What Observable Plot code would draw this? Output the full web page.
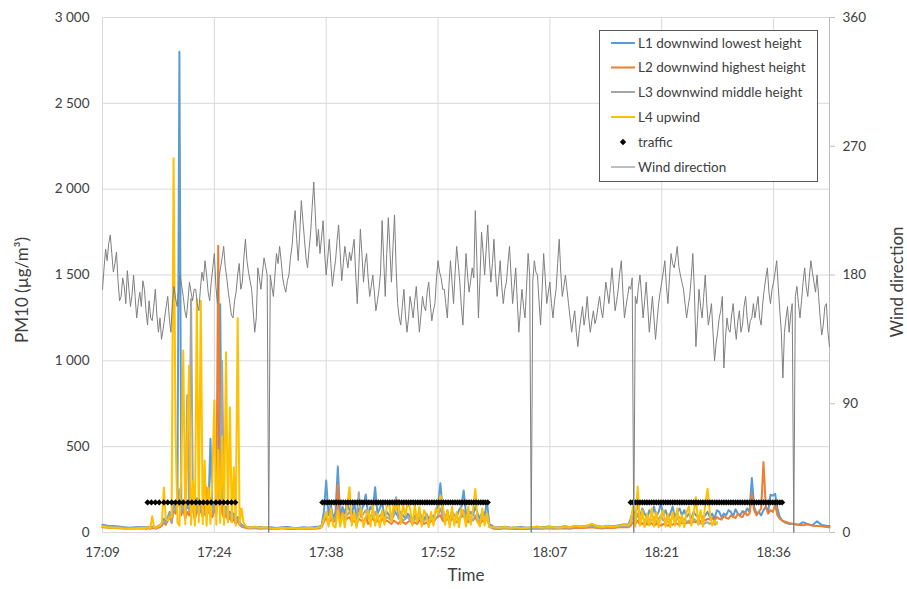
<!DOCTYPE html>
<html><head><meta charset="utf-8">
<script src="https://cdn.jsdelivr.net/npm/d3@7"></script>
<script src="https://cdn.jsdelivr.net/npm/@observablehq/plot@0.6"></script>
<style>
body{margin:0;background:#fff;}
#chart{position:relative;width:907px;height:589px;}
#warn{color:red;font:12px sans-serif;position:absolute;left:300px;top:5px;}
</style></head><body><div id="chart"></div><div id="warn"></div>
<script>
// ---- labels ----
const seriesNames = ["L1 downwind lowest height","L2 downwind highest height","L3 downwind middle height","L4 upwind","traffic","Wind direction"];
const xTickTimes = [1029.6, 1044, 1058.4, 1072.8, 1087.2, 1101.6, 1116]; // minutes after midnight
const xTickLabels = ["17:09","17:24","17:38","17:52","18:07","18:21","18:36"];
const pmTicks = [0, 500, 1000, 1500, 2000, 2500, 3000];
const windTicks = [0, 90, 180, 270, 360];

// ---- PM10 series (shared sample times, minutes after midnight) ----
const pmTimes = [
 1029.6,1030.3,1031.0,1031.7,1032.4,1033.1,1033.8,1034.5,
 1034.75,1035,1035.25,1035.5,1035.75,1036,1036.25,1036.5,1036.75,1037,
 1037.25,1037.5,1037.75,1038,1038.25,1038.5,1038.75,1039,1039.25,1039.5,
 1039.75,1040,1040.25,1040.5,1040.75,1041,1041.25,1041.5,1041.75,1042,
 1042.25,1042.5,1042.75,1043,1043.25,1043.5,1043.75,1044,1044.25,1044.5,
 1044.75,1045,1045.25,1045.5,1045.75,1046,1046.25,1046.5,1046.75,1047,
 1047.25,1047.5,1047.75,1048,1048.25,1048.5,
 1049.2,1049.9,1050.6,1051.3,1052.0,1052.7,1053.4,1054.1,1054.8,1055.5,1056.2,1056.9,1057.5,
 1057.8,1058.1,1058.4,1058.7,1059.0,1059.3,1059.6,1059.9,1060.2,1060.5,
 1060.8,1061.1,1061.4,1061.7,1062.0,1062.3,1062.6,1062.9,1063.2,1063.5,
 1063.8,1064.1,1064.4,1064.7,1065.0,1065.3,1065.6,1065.9,1066.2,1066.5,
 1066.8,1067.1,1067.4,1067.7,1068.0,1068.3,1068.6,1068.9,1069.2,1069.5,
 1069.8,1070.1,1070.4,1070.7,1071.0,1071.3,1071.6,1071.9,1072.2,1072.5,
 1072.8,1073.1,1073.4,1073.7,1074.0,1074.3,1074.6,1074.9,1075.2,1075.5,
 1075.8,1076.1,1076.4,1076.7,1077.0,1077.3,1077.6,1077.9,1078.2,1078.5,
 1078.8,1079.1,1079.4,
 1080.0,1080.7,1081.4,1082.1,1082.8,1083.5,1084.2,1084.9,1085.6,1086.3,
 1087.0,1087.7,1088.4,1089.1,1089.8,1090.5,1091.2,1091.9,1092.6,1093.3,
 1094.0,1094.7,1095.4,1096.1,1096.8,
 1097.3,1097.6,1097.9,1098.2,1098.5,1098.8,1099.1,1099.4,1099.7,1100.0,
 1100.3,1100.6,1100.9,1101.2,1101.5,1101.8,1102.1,1102.4,1102.7,1103.0,
 1103.3,1103.6,1103.9,1104.2,1104.5,1104.8,1105.1,1105.4,1105.7,1106.0,
 1106.3,1106.6,1106.9,1107.2,1107.5,1107.8,1108.1,1108.4,1108.7,1109.0,
 1109.3,1109.6,1109.9,1110.2,1110.5,1110.8,1111.1,1111.4,1111.7,1112.0,
 1112.3,1112.6,1112.9,1113.2,1113.5,1113.8,1114.1,1114.4,1114.7,1115.0,
 1115.3,1115.6,1115.9,1116.2,1116.5,1116.8,1117.1,1117.4,1117.7,1118.0,
 1118.6,1119.2,1119.8,1120.4,1121.0,1121.6,1122.2,1122.8,1123.2
];
const L1 = [
 45,40,38,35,30,28,30,32,
 30,32,28,34,30,35,33,30,38,42, 50,80,60,90,120,70,180,150,200,2800,
 140,180,110,160,130,220,170,90,200,140, 180,120,150,100,160,546,120,180,130,200,
 1330,160,110,150,90,120,80,110,70,90, 60,45,40,35,32,30,
 30,32,28,30,26,30,32,28,26,30,28,32,35,
 40,120,303,100,160,80,120,384,90,150, 110,170,130,100,180,90,140,120,160,221,
 100,150,130,264,110,140,177,90,120,100, 80,130,110,90,120,100,80,110,90,70,
 100,80,120,90,70,110,80,100,90,120, 160,287,130,90,110,80,120,100,90,130,
 150,245,110,90,120,100,150,110,80,120, 100,180,50,
 32,30,34,28,30,32,28,30,34,30,35,32,30,36,32,38,36,40,45,38,34,40,36,42,48,
 45,80,130,100,170,90,140,110,80,130, 100,150,90,120,167,100,130,80,110,150,
 90,120,140,100,130,90,110,80,120,100, 90,110,80,100,120,90,110,80,130,120,
 90,110,100,130,120,95,135,110,100,125, 110,140,120,318,150,110,120,100,130,150,
 120,220,215,225,140,90,70,60,55,50,
 50,45,60,48,42,65,44,40,38
];
const L2 = [
 30,28,26,25,24,22,24,25,
 22,24,20,25,22,26,24,22,28,30, 40,60,45,70,90,55,130,110,150,200,
 100,140,80,120,100,160,130,70,150,100, 140,90,110,262,120,100,90,140,100,1670,
 200,120,80,110,70,90,60,80,50,70, 45,35,30,28,25,24,
 25,22,24,20,22,24,20,22,20,22,24,22,25,
 30,60,90,50,80,60,70,276,60,120, 70,80,90,60,70,50,80,70,60,90,
 50,70,80,60,70,50,80,60,70,60, 50,70,60,50,70,60,50,60,70,50,
 60,50,70,60,50,60,50,70,60,80, 90,100,70,60,128,60,80,70,60,80,
 90,100,70,60,80,70,90,60,50,70, 60,90,35,
 22,20,24,22,20,22,20,22,24,22,25,22,24,25,22,28,26,28,30,26,24,28,26,30,32,
 30,40,60,50,70,45,55,40,50,45, 55,40,50,45,40,50,45,40,50,45,
 55,50,45,60,50,55,60,50,65,60, 70,65,75,70,80,75,85,70,90,80,
 75,95,85,80,100,90,85,110,95,90, 120,100,110,225,130,100,120,140,410,150,
 110,130,120,160,100,80,70,65,60,55,
 50,45,42,48,40,38,36,32,30
];
const L3 = [
 40,35,32,30,28,26,28,30,
 28,30,26,32,28,32,30,28,34,38, 45,70,55,80,110,60,160,130,180,250,
 120,160,100,800,120,1360,150,80,180,120, 160,100,130,90,140,200,110,160,120,180,
 260,1000,100,140,80,110,70,100,60,80, 55,40,35,32,30,28,
 28,26,28,24,25,26,28,24,25,26,24,26,30,
 35,70,110,60,100,70,80,150,70,110, 80,100,120,90,110,80,235,90,110,130,
 80,100,90,120,80,100,110,70,90,80, 70,100,206,80,90,70,80,90,70,60,
 80,70,90,60,70,80,60,90,70,80, 100,140,90,70,80,60,90,70,60,80,
 100,130,80,70,90,70,100,80,60,90, 70,120,40,
 26,25,28,24,25,26,24,25,28,25,28,26,25,30,26,32,30,32,38,30,28,32,30,34,38,
 35,50,90,70,110,60,90,70,60,80, 70,90,60,80,100,70,80,60,70,90,
 60,80,90,70,80,60,70,60,80,70, 50,55,45,55,60,50,55,45,60,null,
 null,null,null,null,null,null,null,null,null,null, null,null,null,null,null,null,null,null,null,null,
 null,null,null,null,null,null,null,null,null,null,
 null,null,null,null,null,null,null,null,null
];
const L4 = [
 35,30,28,27,22,20,24,26,
 25,28,24,30,26,95,30,28,35,40, 60,262,80,70,90,90,2180,600,60,40,
 350,1060,50,480,973,45,300,40,1360,60, 1350,50,420,40,260,50,330,770,45,480,
 55,560,45,1050,60,730,60,380,40,1250, 50,140,60,40,32,28,
 35,28,30,25,22,28,24,26,22,25,28,24,30,
 30,80,120,35,140,40,30,130,35,110, 30,150,264,40,120,28,100,140,32,90,
 130,35,160,40,110,30,130,45,150,180, 60,170,130,190,50,160,100,175,140,40,
 160,60,150,35,130,100,30,120,40,140, 110,217,160,45,130,30,150,40,120,30,
 140,110,35,150,45,130,254,60,35,140, 40,110,30,
 30,28,32,26,30,25,28,30,35,28,32,30,28,35,30,40,35,38,52,36,32,38,34,40,45,
 40,60,150,35,268,40,130,30,110,40, 140,35,120,30,100,130,35,110,30,120,
 40,140,35,100,30,120,150,40,110,206, 45,130,35,160,255,110,40,70,50,null,
 null,null,null,null,null,null,null,null,null,null, null,null,null,null,null,null,null,null,null,null,
 null,null,null,null,null,null,null,null,null,null,
 null,null,null,null,null,null,null,null,null
];

// ---- traffic markers ----
const trafficLevel = 175;
const trafficTimes = [
 1035.4,1035.9,1036.4,1036.9,1037.5,1038.0,1038.5,1039.0,1039.5,1040.0,1040.6,1041.1,
 1041.6,1042.1,1042.6,1043.1,1043.6,1044.2,1044.7,1045.2,1045.7,1046.2,1046.7,
 1057.9,1058.2,1058.5,1058.8,1059.1,1059.4,1059.7,1060.0,1060.3,1060.6,1060.9,1061.2,
 1061.5,1061.8,1062.1,1062.4,1062.7,1063.0,1063.3,1063.6,1063.9,1064.2,1064.5,1064.8,
 1065.1,1065.4,1065.7,1066.0,1066.3,1066.6,1066.9,1067.2,1067.5,1067.8,1068.1,1068.4,
 1068.7,1069.0,1069.3,1069.6,1069.9,1070.2,1070.5,1070.8,1071.1,1071.4,1071.7,1072.0,
 1072.3,1072.6,1072.9,1073.2,1073.5,1073.8,1074.1,1074.4,1074.7,1075.0,1075.3,1075.6,
 1075.9,1076.2,1076.5,1076.8,1077.1,1077.4,1077.7,1078.0,1078.3,1078.6,1078.9,1079.2,
 1097.6,1097.9,1098.2,1098.5,1098.8,1099.1,1099.4,1099.7,1100.0,1100.3,1100.6,1100.9,
 1101.2,1101.5,1101.8,1102.1,1102.4,1102.7,1103.0,1103.3,1103.6,1103.9,1104.2,1104.5,
 1104.8,1105.1,1105.4,1105.7,1106.0,1106.3,1106.6,1106.9,1107.2,1107.5,1107.8,1108.1,
 1108.4,1108.7,1109.0,1109.3,1109.6,1109.9,1110.2,1110.5,1110.8,1111.1,1111.4,1111.7,
 1112.0,1112.3,1112.6,1112.9,1113.2,1113.5,1113.8,1114.1,1114.4,1114.7,1115.0,1115.3,
 1115.6,1115.9,1116.2,1116.5,1116.8,1117.1
];

// ---- wind direction (degrees) ----
const windTimes = [
 1029.6,1029.8,1030.0,1030.2,1030.4,1030.6,1030.8,1031.0,1031.2,1031.4,
 1031.6,1031.8,1032.0,1032.2,1032.4,1032.6,1032.8,1033.0,1033.2,1033.4,
 1033.6,1033.8,1034.0,1034.2,1034.4,1034.6,1034.8,1035.0,1035.2,1035.4,
 1035.6,1035.8,1036.0,1036.2,1036.4,1036.6,1036.8,1037.0,1037.2,1037.4,
 1037.6,1037.8,1038.0,1038.2,1038.4,1038.6,1038.8,1039.0,1039.2,1039.4,
 1039.6,1039.8,1040.0,1040.2,1040.4,1040.6,1040.8,1041.0,1041.2,1041.4,
 1041.6,1041.8,1042.0,1042.2,1042.4,1042.6,1042.8,1043.0,1043.2,1043.4,
 1043.6,1043.8,1044.0,1044.2,1044.4,1044.6,1044.8,1045.0,1045.2,1045.4,
 1045.6,1045.8,1046.0,1046.2,1046.4,1046.6,1046.8,1047.0,1047.2,1047.4,
 1047.6,1047.8,1048.0,1048.2,1048.4,1048.6,1048.8,1049.0,1049.2,1049.4,
 1049.6,1049.8,1050.0,1050.2,1050.4,1050.6,1050.8,1051.0,1051.2,1051.4,
 1051.6,1051.8,1052.0,1052.2,1052.4,1052.6,1052.8,1053.0,1053.2,1053.4,
 1053.6,1053.8,1054.0,1054.2,1054.4,1054.6,1054.8,1055.0,1055.2,1055.4,
 1055.6,1055.8,1056.0,1056.2,1056.4,1056.6,1056.8,1057.0,1057.2,1057.4,
 1057.6,1057.8,1058.0,1058.2,1058.4,1058.6,1058.8,1059.0,1059.2,1059.4,
 1059.6,1059.8,1060.0,1060.2,1060.4,1060.6,1060.8,1061.0,1061.2,1061.4,
 1061.6,1061.8,1062.0,1062.2,1062.4,1062.6,1062.8,1063.0,1063.2,1063.4,
 1063.6,1063.8,1064.0,1064.2,1064.4,1064.6,1064.8,1065.0,1065.2,1065.4,
 1065.6,1065.8,1066.0,1066.2,1066.4,1066.6,1066.8,1067.0,1067.2,1067.4,
 1067.6,1067.8,1068.0,1068.2,1068.4,1068.6,1068.8,1069.0,1069.2,1069.4,
 1069.6,1069.8,1070.0,1070.2,1070.4,1070.6,1070.8,1071.0,1071.2,1071.4,
 1071.6,1071.8,1072.0,1072.2,1072.4,1072.6,1072.8,1073.0,1073.2,1073.4,
 1073.6,1073.8,1074.0,1074.2,1074.4,1074.6,1074.8,1075.0,1075.2,1075.4,
 1075.6,1075.8,1076.0,1076.2,1076.4,1076.6,1076.8,1077.0,1077.2,1077.4,
 1077.6,1077.8,1078.0,1078.2,1078.4,1078.6,1078.8,1079.0,1079.2,1079.4,
 1079.6,1079.8,1080.0,1080.2,1080.4,1080.6,1080.8,1081.0,1081.2,1081.4,
 1081.6,1081.8,1082.0,1082.2,1082.4,1082.6,1082.8,1083.0,1083.2,1083.4,
 1083.6,1083.8,1084.0,1084.2,1084.4,1084.6,1084.8,1085.0,1085.2,1085.4,
 1085.6,1085.8,1086.0,1086.2,1086.4,1086.6,1086.8,1087.0,1087.2,1087.4,
 1087.6,1087.8,1088.0,1088.2,1088.4,1088.6,1088.8,1089.0,1089.2,1089.4,
 1089.6,1089.8,1090.0,1090.2,1090.4,1090.6,1090.8,1091.0,1091.2,1091.4,
 1091.6,1091.8,1092.0,1092.2,1092.4,1092.6,1092.8,1093.0,1093.2,1093.4,
 1093.6,1093.8,1094.0,1094.2,1094.4,1094.6,1094.8,1095.0,1095.2,1095.4,
 1095.6,1095.8,1096.0,1096.2,1096.4,1096.6,1096.8,1097.0,1097.2,1097.4,
 1097.6,1097.8,1098.0,1098.2,1098.4,1098.6,1098.8,1099.0,1099.2,1099.4,
 1099.6,1099.8,1100.0,1100.2,1100.4,1100.6,1100.8,1101.0,1101.2,1101.4,
 1101.6,1101.8,1102.0,1102.2,1102.4,1102.6,1102.8,1103.0,1103.2,1103.4,
 1103.6,1103.8,1104.0,1104.2,1104.4,1104.6,1104.8,1105.0,1105.2,1105.4,
 1105.6,1105.8,1106.0,1106.2,1106.4,1106.6,1106.8,1107.0,1107.2,1107.4,
 1107.6,1107.8,1108.0,1108.2,1108.4,1108.6,1108.8,1109.0,1109.2,1109.4,
 1109.6,1109.8,1110.0,1110.2,1110.4,1110.6,1110.8,1111.0,1111.2,1111.4,
 1111.6,1111.8,1112.0,1112.2,1112.4,1112.6,1112.8,1113.0,1113.2,1113.4,
 1113.6,1113.8,1114.0,1114.2,1114.4,1114.6,1114.8,1115.0,1115.2,1115.4,
 1115.6,1115.8,1116.0,1116.2,1116.4,1116.6,1116.8,1117.0,1117.2,1117.4,
 1117.6,1117.8,1118.0,1118.2,1118.4,1118.6,1118.8,1119.0,1119.2,1119.4,
 1119.6,1119.8,1120.0,1120.2,1120.4,1120.6,1120.8,1121.0,1121.2,1121.4,
 1121.6,1121.8,1122.0,1122.2,1122.4,1122.6,1122.8,1123.0,1123.2
];
const windDir = [
 170,185,198,190,202,208,195,182,188,196, 176,162,165,178,172,160,183,170,158,166,
 180,165,150,160,168,158,176,170,155,145, 162,150,148,158,170,152,140,150,135,142,
 150,158,165,150,140,160,172,164,158,170, 180,172,165,155,150,162,175,168,162,170,
 170,160,155,170,182,176,190,180,168,162, 175,185,195,172,160,178,185,192,200,186,
 178,168,160,152,150,162,168,180,188,170, 175,192,205,190,182,176,170,155,140,150,
 185,178,170,182,192,186,180,0,180,172, 165,180,195,188,200,190,178,172,168,176,
 180,192,200,215,225,205,190,210,232,218, 205,192,185,198,210,228,245,222,200,212,
 195,206,218,195,180,192,205,188,172,182, 190,204,215,195,176,188,200,192,185,196,
 190,198,205,180,160,185,212,195,175,188, 195,178,165,172,180,168,155,162,170,182,
 218,192,165,195,220,198,175,200,222,185, 160,150,145,158,170,152,140,150,165,158,
 150,162,172,155,140,152,165,158,155,168, 175,160,148,155,160,178,190,182,178,170,
 170,160,150,172,190,175,160,182,200,188, 175,158,145,170,195,180,168,176,185,178,
 225,190,150,178,210,196,180,198,215,192, 175,188,205,182,165,176,190,172,160,170,
 175,188,200,180,160,172,185,162,140,155, 170,158,150,172,195,180,0,176,190,182,
 180,162,145,170,195,178,160,168,175,160, 150,162,170,188,205,182,165,172,180,170,
 160,150,140,148,155,140,130,142,150,158, 145,152,165,150,140,148,155,146,150,158,
 165,156,150,162,175,168,160,172,185,170, 155,162,170,182,190,168,150,158,165,172,
 170,178,0,165,160,172,180,166,150,162, 175,158,140,152,165,150,135,148,160,168,
 175,182,190,172,160,178,195,188,185,192, 200,186,180,175,170,160,150,158,165,178,
 195,170,130,148,170,158,150,165,180,160, 145,152,160,140,120,132,140,150,155,165,
 115,135,150,142,140,152,160,145,135,148, 155,140,145,158,165,150,140,148,150,160,
 150,158,165,150,145,160,170,178,185,168, 160,170,175,182,190,172,155,140,108,140,
 150,158,140,152,160,0,165,172,160,150, 162,175,185,172,165,178,190,182,175,168,
 180,165,150,138,145,158,160,140,130
];

// ---- build ----
const colors = ["#5B9BD5", "#ED7D31", "#A5A5A5", "#FFC000", "#000000", "#7F7F7F"];
const pmSeries = [L1, L2, L3, L4];
const warn = [];
pmSeries.forEach((s, i) => { if (s.length !== pmTimes.length) warn.push(`L${i+1}: ${s.length} vs ${pmTimes.length}`); });
if (windDir.length !== windTimes.length) warn.push(`wind: ${windDir.length} vs ${windTimes.length}`);
document.getElementById("warn").textContent = warn.join(" | ");

const pmMax = 3000, windMax = 360;
const toPm = w => w * pmMax / windMax; // secondary-axis conversion
const rows = s => pmTimes.map((t, i) => ({t, v: s[i]}));
const windRows = windTimes.map((t, i) => ({t, v: toPm(windDir[i])}));
const trafficRows = trafficTimes.map(t => ({t, v: trafficLevel}));

const locale = d3.formatLocale({decimal: ",", thousands: " ", grouping: [3], currency: ["", ""]});
const fmt = locale.format(",");
const tickLabel = d => xTickLabels[xTickTimes.indexOf(d)];
const font = "Lato, 'Open Sans', sans-serif";

const chart = Plot.plot({
  width: 907, height: 589,
  marginLeft: 102, marginRight: 78, marginTop: 17, marginBottom: 57,
  style: {fontFamily: font, fontSize: "13.5px", color: "#404040", background: "#fff", overflow: "visible"},
  x: {domain: [1029.6, 1123.2]},
  y: {domain: [0, 3000]},
  marks: [
    Plot.gridY(pmTicks, {stroke: "#d9d9d9", strokeOpacity: 1}),
    Plot.gridX(xTickTimes, {stroke: "#d9d9d9", strokeOpacity: 1}),
    Plot.ruleY([0], {stroke: "#d9d9d9"}),
    Plot.ruleX([1123.2], {stroke: "#bfbfbf"}),
    Plot.axisY(pmTicks, {anchor: "left", tickSize: 0, tickPadding: 13, tickFormat: fmt, label: null, fontSize: 13.5}),
    Plot.axisY(windTicks.map(toPm), {anchor: "right", tickSize: 5, tickPadding: 8, stroke: "#bfbfbf", tickFormat: d => Math.round(d * windMax / pmMax), label: null, fontSize: 13.5}),
    Plot.axisX(xTickTimes, {tickSize: 0, tickPadding: 15, tickFormat: tickLabel, label: null, fontSize: 13.5}),
    ...pmSeries.map((s, i) => Plot.line(rows(s), {x: "t", y: "v", stroke: colors[i], strokeWidth: 2})),
    Plot.dot(trafficRows, {x: "t", y: "v", symbol: "diamond2", r: 2.8, fill: "#000", stroke: "none"}),
    Plot.line(windRows, {x: "t", y: "v", stroke: colors[5], strokeWidth: 1}),
    Plot.text(["Time"], {frameAnchor: "bottom", dy: 48, fontSize: 17, fill: "#404040"}),
    Plot.text(["PM10 (µg/m³)"], {frameAnchor: "left", textAnchor: "middle", rotate: -90, dx: -80, dy: 15, fontSize: 17, fill: "#404040"}),
    Plot.text(["Wind direction"], {frameAnchor: "right", textAnchor: "middle", rotate: -90, dx: 68, dy: 7, fontSize: 17, fill: "#404040"})
  ]
});
document.getElementById("chart").appendChild(chart);

// ---- legend ----
const svg = d3.select(chart);
const lg = svg.append("g").attr("font-family", font).attr("font-size", 13.5).attr("text-anchor", "start");
lg.append("rect").attr("x", 599.5).attr("y", 30.5).attr("width", 218).attr("height", 151)
  .attr("fill", "#fff").attr("stroke", "#595959");
const legendY = [43, 67.5, 92, 117, 142, 167];
seriesNames.forEach((name, i) => {
  const y = legendY[i];
  if (i === 4) {
    lg.append("path").attr("d", d3.symbol(d3.symbolDiamond2, 26)()).attr("transform", `translate(623,${y})`).attr("fill", "#000");
  } else {
    lg.append("line").attr("x1", 611).attr("x2", 635).attr("y1", y).attr("y2", y)
      .attr("stroke", colors[i]).attr("stroke-width", i === 5 ? 1 : 2);
  }
  lg.append("text").attr("x", 638).attr("y", y).attr("dy", "0.35em").attr("text-anchor", "start").attr("fill", "#404040").text(name);
});
</script></body></html>
